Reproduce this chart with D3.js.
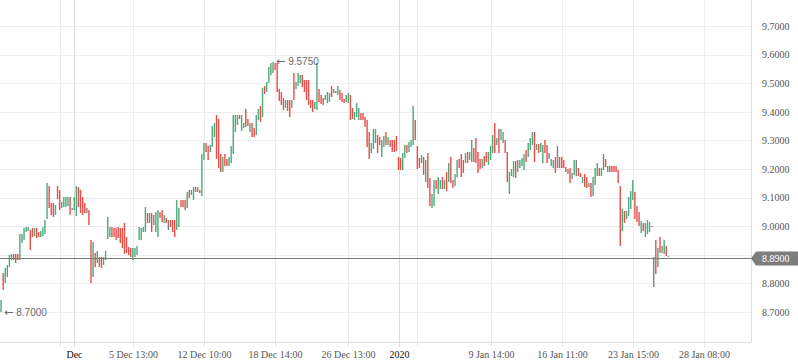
<!DOCTYPE html>
<html>
<head>
<meta charset="utf-8">
<script src="https://d3js.org/d3.v7.min.js"></script>
<style>
  html, body { margin: 0; padding: 0; background: #ffffff; }
  svg { display: block; }
</style>
</head>
<body>
<div id="chart"></div>
<script>
// Bar values, oldest first.
const opens = [
  8.700, 8.836, 8.801, 8.822, 8.857, 8.882, 8.903, 8.903, 8.903,
  8.882, 8.941, 8.952, 8.980, 8.983, 8.987, 8.994, 8.966, 8.994,
  8.980, 8.962, 8.966, 8.973, 9.025, 9.141, 9.081, 9.081, 9.039, 9.141,
  9.127, 9.064, 9.067, 9.067, 9.071, 9.102, 9.060, 9.057, 9.036, 9.137,
  9.127, 9.102, 9.081, 9.055, 9.057, 8.952, 8.822, 8.906, 8.871, 8.892,
  8.892, 8.864, 8.882, 8.955, 8.962, 8.997, 8.994, 8.994, 8.997, 8.994,
  8.994, 9.011, 8.962, 8.927, 8.924, 8.882, 8.892, 8.899, 8.952, 8.952,
  8.980, 8.980, 9.046, 9.030, 9.046, 9.004, 8.980, 8.962, 9.050, 9.057,
  9.011, 9.029, 9.005, 9.022, 9.022, 9.022, 8.987, 8.997, 9.092,
  9.092, 9.092, 9.064, 9.127, 9.109, 9.092, 9.137, 9.120, 9.127,
  9.106, 9.231, 9.291, 9.280, 9.259, 9.277, 9.312, 9.389, 9.375, 9.252,
  9.189, 9.252, 9.235, 9.210, 9.221, 9.252, 9.329, 9.354, 9.389, 9.333,
  9.343, 9.410, 9.375, 9.329, 9.361, 9.343, 9.319, 9.371, 9.420, 9.382,
  9.490, 9.469, 9.501, 9.529, 9.536, 9.571, 9.571, 9.480, 9.469, 9.448,
  9.413, 9.441, 9.441, 9.413, 9.536, 9.480, 9.490, 9.501, 9.529, 9.511,
  9.511, 9.511, 9.441, 9.441, 9.410, 9.406, 9.480, 9.459, 9.448, 9.441,
  9.431, 9.434, 9.490, 9.466, 9.470, 9.459, 9.476, 9.466, 9.445,
  9.434, 9.431, 9.459, 9.413, 9.371, 9.382, 9.371, 9.396, 9.396, 9.382,
  9.371, 9.329, 9.256, 9.270, 9.291, 9.319, 9.312, 9.242, 9.277,
  9.329, 9.284, 9.301, 9.301, 9.301, 9.315, 9.242, 9.238, 9.196, 9.238,
  9.284, 9.259, 9.277, 9.284, 9.371, 9.280, 9.238, 9.221, 9.242, 9.155,
  9.256, 9.169, 9.064, 9.071, 9.162, 9.113, 9.130, 9.172, 9.130, 9.189, 9.155,
  9.242, 9.162, 9.141, 9.172, 9.235, 9.252, 9.231, 9.221, 9.259, 9.231,
  9.224, 9.273, 9.308, 9.259, 9.235, 9.203, 9.245, 9.259, 9.214, 9.231, 9.256,
  9.361, 9.284, 9.340, 9.301, 9.291, 9.301, 9.259, 9.113, 9.176, 9.172,
  9.228, 9.189, 9.203, 9.210, 9.196, 9.266, 9.242, 9.266, 9.284, 9.329, 9.266,
  9.287, 9.259, 9.221, 9.301, 9.284, 9.245, 9.210, 9.203, 9.242, 9.240,
  9.242, 9.242, 9.231, 9.207, 9.190, 9.203, 9.165, 9.179, 9.200, 9.203, 9.186,
  9.151, 9.183, 9.172, 9.137, 9.151, 9.106, 9.144, 9.176, 9.203, 9.176,
  9.220, 9.235, 9.189, 9.210, 9.210, 9.210, 9.210, 9.196, 9.141, 8.983, 9.053,
  9.025, 9.036, 9.060, 9.092, 9.120, 9.071, 9.050, 8.976, 9.011, 8.962,
  8.973, 8.980, 8.999, 8.840, 8.952, 8.857, 8.962, 8.906, 8.903, 8.931, 8.894
];
const highs = [
  8.742, 8.836, 8.854, 8.864, 8.899, 8.903, 8.903, 8.903, 8.903,
  8.973, 8.973, 8.994, 8.997, 8.997, 8.987, 8.994, 8.994, 8.994,
  8.980, 8.983, 8.997, 9.022, 9.151, 9.141, 9.081, 9.081, 9.074, 9.141,
  9.127, 9.085, 9.102, 9.102, 9.102, 9.102, 9.064, 9.102, 9.141, 9.137,
  9.127, 9.102, 9.081, 9.064, 9.057, 8.952, 8.945, 8.906, 8.913, 8.892,
  8.892, 8.892, 8.913, 9.032, 8.997, 8.997, 8.994, 8.994, 8.997, 8.994,
  8.994, 9.011, 8.962, 8.927, 8.924, 8.924, 8.924, 8.931, 8.997, 8.994,
  8.997, 9.067, 9.046, 9.046, 9.046, 9.039, 9.050, 9.057, 9.050, 9.057,
  9.039, 9.029, 9.022, 9.022, 9.022, 9.022, 9.092, 9.064, 9.092,
  9.092, 9.092, 9.120, 9.127, 9.127, 9.137, 9.137, 9.137, 9.127,
  9.252, 9.291, 9.291, 9.280, 9.284, 9.350, 9.361, 9.389, 9.375, 9.252,
  9.242, 9.252, 9.235, 9.242, 9.280, 9.389, 9.389, 9.389, 9.389, 9.389,
  9.361, 9.410, 9.375, 9.361, 9.361, 9.343, 9.389, 9.410, 9.420, 9.483,
  9.490, 9.504, 9.557, 9.571, 9.575, 9.571, 9.571, 9.480, 9.469, 9.448,
  9.441, 9.441, 9.441, 9.441, 9.536, 9.504, 9.536, 9.529, 9.529, 9.511,
  9.511, 9.511, 9.441, 9.441, 9.434, 9.571, 9.480, 9.459, 9.448, 9.459,
  9.469, 9.466, 9.490, 9.480, 9.473, 9.490, 9.476, 9.466, 9.445,
  9.459, 9.466, 9.459, 9.413, 9.399, 9.431, 9.413, 9.396, 9.396, 9.382,
  9.371, 9.329, 9.291, 9.340, 9.340, 9.319, 9.312, 9.301, 9.315,
  9.329, 9.312, 9.301, 9.301, 9.301, 9.315, 9.242, 9.238, 9.256, 9.284,
  9.284, 9.294, 9.301, 9.420, 9.371, 9.280, 9.238, 9.249, 9.242, 9.231,
  9.256, 9.169, 9.113, 9.162, 9.162, 9.172, 9.162, 9.172, 9.162, 9.189, 9.221,
  9.242, 9.162, 9.183, 9.231, 9.235, 9.252, 9.231, 9.256, 9.259, 9.259,
  9.301, 9.273, 9.308, 9.259, 9.235, 9.235, 9.245, 9.259, 9.259, 9.280, 9.319,
  9.361, 9.308, 9.340, 9.340, 9.329, 9.301, 9.259, 9.189, 9.200, 9.228,
  9.228, 9.231, 9.231, 9.238, 9.252, 9.266, 9.291, 9.308, 9.329, 9.329, 9.287,
  9.287, 9.291, 9.284, 9.301, 9.284, 9.256, 9.235, 9.231, 9.242, 9.280,
  9.242, 9.242, 9.231, 9.207, 9.200, 9.203, 9.186, 9.231, 9.231, 9.203, 9.186,
  9.172, 9.183, 9.172, 9.151, 9.151, 9.172, 9.203, 9.221, 9.203, 9.203,
  9.252, 9.235, 9.210, 9.210, 9.210, 9.210, 9.210, 9.196, 9.141, 9.060, 9.053,
  9.053, 9.102, 9.123, 9.162, 9.120, 9.071, 9.050, 9.018, 9.011, 9.011,
  9.022, 9.015, 9.001, 8.892, 8.952, 8.924, 8.962, 8.931, 8.952, 8.931, 8.896
];
const lows = [
  8.700, 8.777, 8.801, 8.822, 8.857, 8.882, 8.882, 8.871, 8.882,
  8.882, 8.941, 8.952, 8.980, 8.983, 8.917, 8.962, 8.966, 8.959,
  8.962, 8.962, 8.966, 8.973, 9.025, 9.064, 9.039, 9.032, 9.039, 9.095,
  9.057, 9.064, 9.067, 9.067, 9.071, 9.039, 9.057, 9.057, 9.036, 9.067,
  9.046, 9.039, 9.046, 9.046, 9.004, 8.801, 8.822, 8.857, 8.871, 8.857,
  8.854, 8.864, 8.882, 8.955, 8.962, 8.962, 8.962, 8.952, 8.959, 8.941,
  8.924, 8.903, 8.906, 8.899, 8.892, 8.882, 8.892, 8.899, 8.952, 8.952,
  8.980, 8.980, 9.011, 9.011, 8.980, 9.004, 8.980, 8.962, 9.029, 9.015,
  9.011, 9.011, 8.987, 8.997, 8.980, 8.962, 8.987, 8.997, 9.067,
  9.067, 9.057, 9.064, 9.099, 9.109, 9.092, 9.120, 9.120, 9.116,
  9.106, 9.231, 9.259, 9.231, 9.259, 9.277, 9.312, 9.235, 9.203, 9.189,
  9.189, 9.210, 9.210, 9.210, 9.221, 9.252, 9.329, 9.354, 9.375, 9.333,
  9.343, 9.347, 9.350, 9.329, 9.312, 9.312, 9.319, 9.371, 9.364, 9.382,
  9.462, 9.469, 9.501, 9.529, 9.536, 9.546, 9.469, 9.438, 9.424, 9.406,
  9.413, 9.403, 9.382, 9.413, 9.441, 9.480, 9.490, 9.501, 9.487, 9.469,
  9.441, 9.424, 9.413, 9.399, 9.410, 9.406, 9.434, 9.427, 9.424, 9.441,
  9.431, 9.434, 9.452, 9.466, 9.466, 9.459, 9.441, 9.434, 9.431,
  9.434, 9.431, 9.371, 9.375, 9.371, 9.382, 9.371, 9.371, 9.371, 9.347,
  9.277, 9.235, 9.256, 9.270, 9.291, 9.256, 9.284, 9.242, 9.277,
  9.284, 9.284, 9.277, 9.259, 9.259, 9.263, 9.196, 9.196, 9.196, 9.238,
  9.256, 9.259, 9.277, 9.284, 9.301, 9.200, 9.203, 9.221, 9.179, 9.155,
  9.134, 9.071, 9.064, 9.071, 9.130, 9.113, 9.130, 9.130, 9.130, 9.123, 9.155,
  9.151, 9.134, 9.141, 9.172, 9.203, 9.172, 9.186, 9.221, 9.221, 9.231,
  9.224, 9.224, 9.221, 9.186, 9.200, 9.203, 9.210, 9.224, 9.214, 9.231, 9.256,
  9.256, 9.284, 9.256, 9.301, 9.291, 9.256, 9.155, 9.113, 9.176, 9.172,
  9.169, 9.189, 9.203, 9.210, 9.196, 9.224, 9.242, 9.266, 9.284, 9.224, 9.266,
  9.256, 9.259, 9.221, 9.256, 9.221, 9.235, 9.210, 9.203, 9.186, 9.203,
  9.203, 9.203, 9.203, 9.189, 9.183, 9.151, 9.165, 9.179, 9.176, 9.176, 9.172,
  9.151, 9.137, 9.134, 9.137, 9.102, 9.106, 9.144, 9.176, 9.176, 9.176,
  9.196, 9.207, 9.189, 9.189, 9.189, 9.189, 9.189, 9.151, 8.931, 8.983, 9.011,
  9.025, 9.036, 9.060, 9.092, 9.025, 9.015, 9.001, 8.976, 8.983, 8.962,
  8.973, 8.980, 8.997, 8.787, 8.833, 8.857, 8.906, 8.906, 8.903, 8.896, 8.892
];
const closes = [
  8.742, 8.777, 8.854, 8.864, 8.899, 8.903, 8.882, 8.871, 8.882,
  8.973, 8.973, 8.994, 8.997, 8.997, 8.917, 8.962, 8.994, 8.959,
  8.962, 8.983, 8.997, 9.022, 9.151, 9.064, 9.039, 9.032, 9.074, 9.095,
  9.057, 9.085, 9.102, 9.102, 9.102, 9.039, 9.060, 9.102, 9.141, 9.067,
  9.046, 9.039, 9.046, 9.055, 9.004, 8.801, 8.945, 8.857, 8.913, 8.857,
  8.854, 8.892, 8.913, 9.032, 8.997, 8.962, 8.962, 8.952, 8.959, 8.941,
  8.924, 8.903, 8.906, 8.899, 8.892, 8.924, 8.924, 8.931, 8.997, 8.994,
  8.997, 9.067, 9.011, 9.030, 8.980, 9.039, 9.050, 9.057, 9.029, 9.015,
  9.039, 9.011, 9.005, 8.997, 8.980, 8.962, 9.092, 9.064, 9.067,
  9.067, 9.057, 9.120, 9.099, 9.127, 9.137, 9.120, 9.137, 9.116,
  9.252, 9.291, 9.259, 9.231, 9.284, 9.350, 9.361, 9.235, 9.203, 9.189,
  9.242, 9.210, 9.210, 9.242, 9.280, 9.389, 9.389, 9.389, 9.375, 9.389,
  9.361, 9.347, 9.350, 9.361, 9.312, 9.312, 9.389, 9.410, 9.364, 9.483,
  9.462, 9.504, 9.557, 9.571, 9.575, 9.546, 9.469, 9.438, 9.424, 9.406,
  9.441, 9.403, 9.382, 9.441, 9.441, 9.504, 9.536, 9.529, 9.487, 9.469,
  9.441, 9.424, 9.413, 9.399, 9.434, 9.571, 9.434, 9.427, 9.424, 9.459,
  9.469, 9.466, 9.452, 9.480, 9.470, 9.490, 9.441, 9.434, 9.431,
  9.459, 9.466, 9.371, 9.375, 9.399, 9.431, 9.413, 9.371, 9.371, 9.347,
  9.277, 9.235, 9.291, 9.340, 9.340, 9.256, 9.284, 9.301, 9.315,
  9.284, 9.312, 9.277, 9.259, 9.259, 9.263, 9.196, 9.196, 9.256, 9.284,
  9.256, 9.294, 9.301, 9.420, 9.301, 9.200, 9.203, 9.249, 9.179, 9.231,
  9.134, 9.071, 9.113, 9.162, 9.130, 9.172, 9.162, 9.130, 9.162, 9.123, 9.221,
  9.151, 9.134, 9.183, 9.231, 9.203, 9.172, 9.186, 9.256, 9.221, 9.259,
  9.301, 9.224, 9.221, 9.186, 9.200, 9.235, 9.210, 9.224, 9.259, 9.280, 9.319,
  9.256, 9.308, 9.256, 9.340, 9.329, 9.256, 9.155, 9.189, 9.200, 9.228,
  9.169, 9.231, 9.231, 9.238, 9.252, 9.224, 9.291, 9.308, 9.329, 9.224, 9.287,
  9.256, 9.291, 9.284, 9.256, 9.221, 9.245, 9.235, 9.231, 9.186, 9.240,
  9.203, 9.203, 9.203, 9.189, 9.190, 9.151, 9.186, 9.231, 9.200, 9.176, 9.172,
  9.172, 9.137, 9.134, 9.151, 9.102, 9.172, 9.203, 9.221, 9.176, 9.203,
  9.220, 9.207, 9.210, 9.189, 9.189, 9.189, 9.189, 9.151, 8.931, 9.060, 9.011,
  9.053, 9.102, 9.123, 9.162, 9.025, 9.015, 9.001, 9.018, 8.983, 9.011,
  9.022, 9.015, 8.999, 8.840, 8.833, 8.924, 8.906, 8.931, 8.952, 8.896, 8.894
];

// Last traded price, shown as a line and a tag on the price scale.
const lastPrice = 8.89;

// Price scale ticks.
const priceTicks = [8.7, 8.8, 8.9, 9.0, 9.1, 9.2, 9.3, 9.4, 9.5, 9.6, 9.7];

// Time scale ticks, as bar positions, with their labels.
const timeTickIndex = [28, 35, 63, 97, 131, 166, 190, 199, 234, 268, 302, 336];
const timeTickLabels = ["", "Dec", "5 Dec 13:00", "12 Dec 10:00", "18 Dec 14:00",
    "26 Dec 13:00", "2020", "", "9 Jan 14:00", "16 Jan 11:00", "23 Jan 15:00", "28 Jan 08:00"];
const timeTickMajor = [false, true, false, false, false, false, true, false, false, false, false, false];

// Layout.
const width = 798;
const height = 363;
const plotRight = 751;
const plotBottom = 342;

const upColor = "#4fa77c";
const downColor = "#e84d48";
const flatColor = "#808080";
const gridColor = "#ededed";
const majorGridColor = "#dadada";
const serif = "'Liberation Serif', 'Times New Roman', serif";

function crisp(v) {
    // Snap a coordinate to the middle of a pixel for sharp 1px lines.
    return Math.round(v) + 0.5;
}

function barColor(d) {
    if (d.close > d.open) return upColor;
    if (d.close < d.open) return downColor;
    return flatColor;
}

// One record per bar.
let bars = highs.map(function(h, i) {
    return {i: i, open: opens[i], high: h, low: lows[i], close: closes[i]};
});

let x = d3.scaleLinear().domain([-0.5, 358.5]).range([0, plotRight]);
let y = d3.scaleLinear().domain([8.7, 9.7]).range([312, 26]);

let svg = d3.select("#chart").append("svg")
    .attr("width", width)
    .attr("height", height)
    .style("background", "#ffffff");

// Horizontal grid.
svg.append("g")
    .selectAll("line")
    .data(priceTicks)
    .join("line")
    .attr("x1", 0)
    .attr("x2", plotRight)
    .attr("y1", d => crisp(y(d)))
    .attr("y2", d => crisp(y(d)))
    .attr("stroke", gridColor);

// Vertical grid.
svg.append("g")
    .selectAll("line")
    .data(timeTickIndex)
    .join("line")
    .attr("x1", d => crisp(x(d)))
    .attr("x2", d => crisp(x(d)))
    .attr("y1", 0)
    .attr("y2", plotBottom)
    .attr("stroke", (d, i) => timeTickMajor[i] ? majorGridColor : gridColor);

// Frame on the right and at the bottom.
svg.append("line")
    .attr("x1", crisp(plotRight)).attr("x2", crisp(plotRight))
    .attr("y1", 0).attr("y2", crisp(plotBottom))
    .attr("stroke", "#dedede");
svg.append("line")
    .attr("x1", 0).attr("x2", crisp(plotRight))
    .attr("y1", crisp(plotBottom)).attr("y2", crisp(plotBottom))
    .attr("stroke", "#dedede");

// Price scale labels; the one under the last price tag is hidden.
let yAxis = d3.axisRight(y)
    .tickValues(priceTicks.filter(v => Math.abs(y(v) - y(lastPrice)) > 12))
    .tickFormat(d3.format(".4f"))
    .tickSize(0)
    .tickPadding(11);

svg.append("g")
    .attr("transform", "translate(" + plotRight + ",0)")
    .call(yAxis)
    .attr("font-family", serif)
    .attr("font-size", 10)
    .call(g => g.select(".domain").remove())
    .selectAll("text")
    .attr("fill", "#555555");

// Time scale labels and ticks.
let xAxis = d3.axisBottom(x)
    .tickValues(timeTickIndex)
    .tickFormat((d, i) => timeTickLabels[i])
    .tickSize(5)
    .tickPadding(4);

let xg = svg.append("g")
    .attr("transform", "translate(0," + plotBottom + ")")
    .call(xAxis)
    .attr("font-family", serif)
    .attr("font-size", 10);

xg.select(".domain").remove();
xg.selectAll(".tick")
    .attr("transform", d => "translate(" + crisp(x(d)) + ",0)");
xg.selectAll(".tick line")
    .attr("stroke", (d, i) => timeTickMajor[i] ? majorGridColor : "#e3e3e3");
xg.selectAll(".tick text")
    .attr("fill", (d, i) => timeTickMajor[i] ? "#111111" : "#555555");

// Bars: one vertical stroke from high to low.
svg.append("g")
    .selectAll("line")
    .data(bars)
    .join("line")
    .attr("x1", d => x(d.i))
    .attr("x2", d => x(d.i))
    .attr("y1", d => Math.round(y(d.high)))
    .attr("y2", d => Math.max(Math.round(y(d.low)), Math.round(y(d.high)) + 1))
    .attr("stroke", barColor)
    .attr("stroke-width", 1.4);

// Last price line and tag.
let py = crisp(y(lastPrice));

svg.append("line")
    .attr("x1", 0).attr("x2", plotRight)
    .attr("y1", py).attr("y2", py)
    .attr("stroke", "#7a7a7a")
    .attr("stroke-width", 1);

svg.append("path")
    .attr("d", "M" + plotRight + "," + py +
        " L" + (plotRight + 5) + "," + (py - 7) +
        " L" + width + "," + (py - 7) +
        " L" + width + "," + (py + 7) +
        " L" + (plotRight + 5) + "," + (py + 7) + " Z")
    .attr("fill", "#7d7d7d");

svg.append("text")
    .attr("x", plotRight + 11)
    .attr("y", py)
    .attr("dy", "0.35em")
    .attr("font-family", serif)
    .attr("font-size", 10)
    .attr("fill", "#ffffff")
    .text(d3.format(".4f")(lastPrice));

// Markers for the highest high and lowest low.
let hiIdx = d3.maxIndex(highs);
let loIdx = d3.minIndex(lows);

[[hiIdx, highs[hiIdx]], [loIdx, lows[loIdx]]].forEach(function(m) {
    let t = svg.append("text")
        .attr("x", x(m[0]) + 3)
        .attr("y", y(m[1]))
        .attr("dy", "0.35em")
        .attr("font-family", "'Liberation Sans', Arial, sans-serif")
        .attr("font-size", 10)
        .attr("fill", "#6a6a6a");
    t.append("tspan")
        .attr("font-family", "'DejaVu Sans', sans-serif")
        .attr("font-size", 11)
        .text("\u2190");
    t.append("tspan")
        .attr("dx", 3)
        .text(d3.format(".4f")(m[1]));
});
</script>
</body>
</html>
